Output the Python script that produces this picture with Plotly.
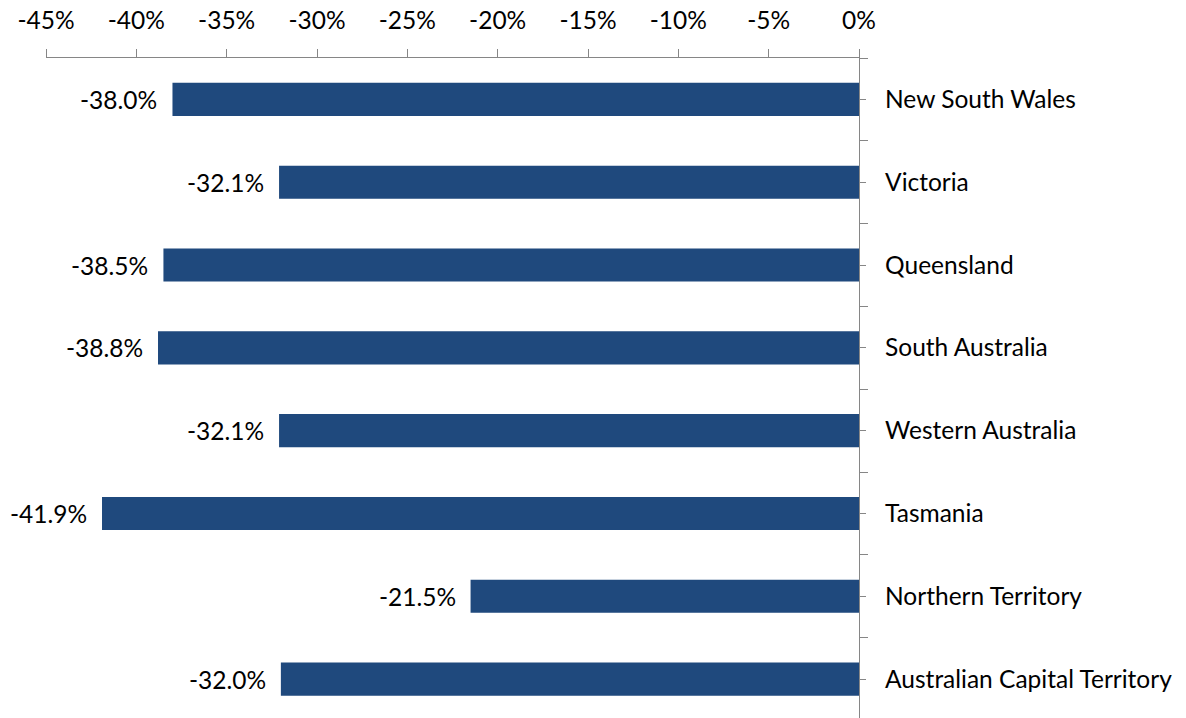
import plotly.graph_objects as go

# Change by state / territory (per cent)
states = [
    "New South Wales",
    "Victoria",
    "Queensland",
    "South Australia",
    "Western Australia",
    "Tasmania",
    "Northern Territory",
    "Australian Capital Territory",
]
change_pct = [-38.0, -32.1, -38.5, -38.8, -32.1, -41.9, -21.5, -32.0]

x_ticks = [-45, -40, -35, -30, -25, -20, -15, -10, -5, 0]
x_tick_labels = [f"{t}%" for t in x_ticks]

BAR_COLOR = "#1F497D"
AXIS_COLOR = "#868686"
FONT = "Lato"
FONT_SIZE = 24.5

positions = list(range(len(states)))

fig = go.Figure()
fig.add_trace(
    go.Bar(
        x=change_pct,
        y=positions,
        orientation="h",
        width=0.4,
        marker=dict(color=BAR_COLOR, line=dict(width=0)),
        hoverinfo="skip",
    )
)

# Value labels placed just beyond the end of each bar
for pos, val in zip(positions, change_pct):
    fig.add_annotation(
        x=val,
        y=pos,
        text=f"{val:.1f}%",
        showarrow=False,
        xanchor="right",
        yanchor="middle",
        xshift=-13,
        font=dict(family=FONT, size=FONT_SIZE, color="#000000"),
    )

fig.update_layout(
    width=1186,
    height=718,
    margin=dict(l=46, r=327, t=58, b=0),
    paper_bgcolor="white",
    plot_bgcolor="white",
    showlegend=False,
    font=dict(family=FONT, size=FONT_SIZE, color="#000000"),
    xaxis=dict(
        side="top",
        range=[-45, 0],
        tickvals=x_ticks,
        ticktext=x_tick_labels,
        showgrid=False,
        zeroline=False,
        showline=True,
        linecolor=AXIS_COLOR,
        linewidth=1.3,
        ticks="outside",
        ticklen=8,
        tickwidth=1.3,
        tickcolor=AXIS_COLOR,
        ticklabelstandoff=10,
        tickfont=dict(family=FONT, size=FONT_SIZE, color="#000000"),
    ),
    yaxis=dict(
        side="right",
        range=[7.47, -0.5],
        tickvals=positions,
        ticktext=states,
        showgrid=False,
        zeroline=False,
        showline=True,
        linecolor=AXIS_COLOR,
        linewidth=1.3,
        ticks="outside",
        ticklen=6,
        tickwidth=1.3,
        tickcolor=AXIS_COLOR,
        ticklabelstandoff=14,
        tickfont=dict(family=FONT, size=FONT_SIZE, color="#000000"),
        minor=dict(
            tick0=0.5,
            dtick=1,
            ticks="outside",
            ticklen=8,
            tickwidth=1.3,
            tickcolor=AXIS_COLOR,
            showgrid=False,
        ),
    ),
)

fig.write_html("out.html")
